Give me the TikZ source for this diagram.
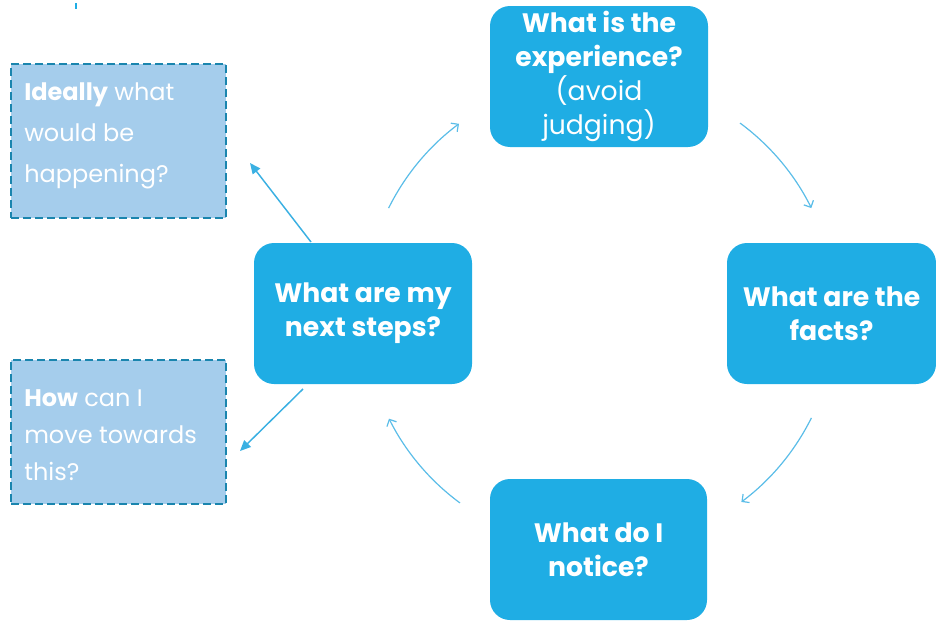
\documentclass[tikz,border=0pt]{standalone}
\usepackage{fontspec}
\setmainfont{Poppins}
\usetikzlibrary{arrows.meta}
\definecolor{boxblue}{HTML}{1FADE4}
\definecolor{lightbox}{HTML}{A5CDEC}
\definecolor{dashline}{HTML}{1A85AE}
\definecolor{arcblue}{HTML}{5BBDE8}
\definecolor{linkblue}{HTML}{3AB0E2}
\begin{document}
\begin{tikzpicture}[x=0.75pt,y=-0.75pt,
  qbox/.style={rectangle, rounded corners=15pt, fill=boxblue, text=white, align=center,
    font=\fontsize{20}{25.5}\selectfont\bfseries, inner sep=0pt},
  dbox/.style={rectangle, fill=lightbox, draw=dashline, line width=1.5pt,
    dash pattern=on 6pt off 3pt, inner sep=0pt, minimum width=161.25pt},
  dtext/.style={text=white, align=left, anchor=west, inner sep=0pt,
    font=\fontsize{18}{30.75}\selectfont},
  cyc/.style={draw=arcblue, line width=0.9pt, -{Straight Barb[length=4pt,width=8pt]}},
  link/.style={draw=linkblue, line width=1.1pt, -{Triangle[length=8pt,width=7pt]}}
]
\useasboundingbox (0,0) rectangle (936,621);
% small tick
\draw[boxblue, line width=1.8pt] (76,3) -- (76,9);
% question boxes
\node[qbox, minimum width=163.5pt, minimum height=105.75pt] (exp) at (599,76.5)
  {What is the\\experience?\\{\mdseries (avoid}\\{\mdseries judging)}};
\node[qbox, minimum width=156.75pt, minimum height=105.75pt] (facts) at (831.5,313.5)
  {What are the\\facts?};
\node[qbox, minimum width=162.75pt, minimum height=105.75pt] (notice) at (598.5,549.5)
  {What do I\\notice?};
\node[qbox, minimum width=163.5pt, minimum height=105.75pt] (steps) at (363,313.5)
  {What are my\\next steps?};
% dashed boxes
\node[dbox, minimum height=115.5pt] (ideal) at (118.5,141) {};
\node[dtext] (idealt) at (24,136) {\textbf{Ideally} what\\would be\\happening?};
\node[dbox, minimum height=108pt] (how) at (118.5,432) {};
\node[dtext, font=\fontsize{18}{27.75}\selectfont] (howt) at (24,435) {\textbf{How} can I\\move towards\\this?};
% cycle arcs
\coordinate (ctr) at (600,313);
\draw[cyc] (ctr) ++(-153.6:236) arc[start angle=-153.6, end angle=-126.7, radius=236];
\draw[cyc] (ctr) ++(-53.6:236) arc[start angle=-53.6, end angle=-26.4, radius=236];
\draw[cyc] (ctr) ++(26.4:236) arc[start angle=26.4, end angle=53.2, radius=236];
\draw[cyc] (ctr) ++(126.4:236) arc[start angle=126.4, end angle=153.4, radius=236];
% links to dashed boxes
\coordinate (s1) at (311,242);
\coordinate (e1) at (250,163);
\coordinate (s2) at (303,389);
\coordinate (e2) at (240,451);
\draw[link] (s1) -- (e1);
\draw[link] (s2) -- (e2);
\end{tikzpicture}
\end{document}
